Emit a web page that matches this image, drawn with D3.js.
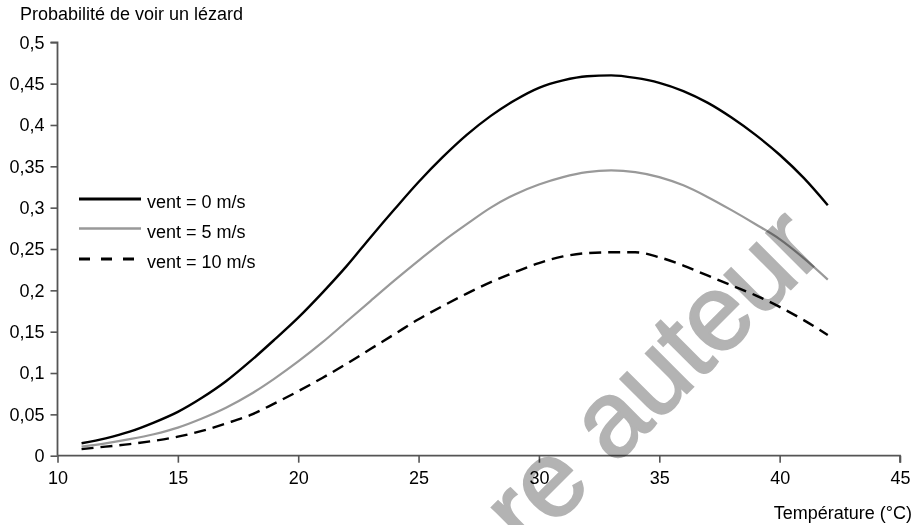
<!DOCTYPE html>
<html>
<head>
<meta charset="utf-8">
<script src="https://cdn.jsdelivr.net/npm/d3@7"></script>
<style>
  html, body { margin: 0; padding: 0; background: #fff; }
  svg { display: block; }
  text { font-family: "Liberation Sans", Arial, Helvetica, sans-serif; fill: #000; }
</style>
</head>
<body>
<svg id="chart" width="916" height="525"></svg>
<script>
// ---- Data ----
const temperatures = [11,12,13,14,15,16,17,18,19,20,21,22,23,24,25,26,27,28,29,30,31,32,33,34,35,36,37,38,39,40,41,42];
const vent0  = [0.015,0.021,0.029,0.040,0.053,0.070,0.090,0.114,0.140,0.167,0.197,0.229,0.264,0.298,0.331,0.361,0.388,0.411,0.430,0.445,0.454,0.459,0.460,0.457,0.451,0.441,0.427,0.409,0.388,0.364,0.336,0.303];
const vent5  = [0.011,0.015,0.020,0.026,0.034,0.045,0.058,0.074,0.093,0.114,0.137,0.162,0.187,0.212,0.236,0.259,0.280,0.300,0.316,0.328,0.337,0.343,0.345,0.343,0.337,0.327,0.313,0.297,0.280,0.262,0.239,0.213];
const vent10 = [0.008,0.011,0.014,0.018,0.023,0.030,0.039,0.049,0.063,0.078,0.094,0.111,0.129,0.147,0.165,0.181,0.196,0.210,0.222,0.233,0.241,0.245,0.246,0.246,0.240,0.230,0.218,0.206,0.194,0.180,0.164,0.146];
const seriesNames = ["vent = 0 m/s", "vent = 5 m/s", "vent = 10 m/s"];
const xTicks = [10,15,20,25,30,35,40,45];
const yTicks = [0,0.05,0.1,0.15,0.2,0.25,0.3,0.35,0.4,0.45,0.5];
const yTitle = "Probabilité de voir un lézard";
const xTitle = "Température (°C)";
const watermark = "re auteur";

// ---- Layout ----
const svg = d3.select("#chart");
const x = d3.scaleLinear().domain([10,45]).range([57.5, 900]);
const y = d3.scaleLinear().domain([0,0.5]).range([455.7, 42.3]);
const fmt = d => String(d).replace(".", ",");
const fontSize = "18px";
const axisColor = "#555";

// ---- Axes ----
const gx = svg.append("g").attr("transform", `translate(0,${y(0)})`)
  .call(d3.axisBottom(x).tickValues(xTicks).tickSize(7).tickPadding(9).tickFormat(d => d));
const gy = svg.append("g").attr("transform", `translate(${x(10)},0)`)
  .call(d3.axisLeft(y).tickValues(yTicks).tickSize(7).tickPadding(6).tickFormat(fmt));
[gx, gy].forEach(g => {
  g.select(".domain").attr("stroke", axisColor).attr("stroke-width", 1.8);
  g.selectAll(".tick line").attr("stroke", axisColor).attr("stroke-width", 1.6);
  g.selectAll(".tick text").style("font-size", fontSize).attr("fill", "#000")
    .style("font-family", '"Liberation Sans", Arial, sans-serif');
});
gx.select(".domain").attr("d", `M${x(10)},0H${x(45)}V7`);
gy.select(".domain").attr("d", `M0,${y(0)}V${y(0.5)}H-7`);

svg.append("text").attr("x", 20).attr("y", 20).style("font-size", fontSize).text(yTitle);
svg.append("text").attr("x", 912).attr("y", 519).attr("text-anchor", "end").style("font-size", fontSize).text(xTitle);

// ---- Lines ----
const styles = [
  {stroke: "#000", width: 2.4, dash: null},
  {stroke: "#999", width: 2.2, dash: null},
  {stroke: "#000", width: 2.4, dash: "12,7"}
];
const allSeries = [vent0, vent5, vent10];
const line = d3.line().x(d => x(d[0])).y(d => y(d[1])).curve(d3.curveMonotoneX);
allSeries.forEach((vals, i) => {
  svg.append("path")
    .datum(temperatures.map((t, j) => [t, vals[j]]))
    .attr("fill", "none")
    .attr("stroke", styles[i].stroke)
    .attr("stroke-width", styles[i].width)
    .attr("stroke-dasharray", styles[i].dash)
    .attr("d", line);
});

// ---- Legend ----
const legendY = [199, 228.5, 259];
seriesNames.forEach((name, i) => {
  svg.append("line")
    .attr("x1", 79).attr("x2", 141)
    .attr("y1", legendY[i]).attr("y2", legendY[i])
    .attr("stroke", styles[i].stroke)
    .attr("stroke-width", i === 1 ? 2.6 : 3)
    .attr("stroke-dasharray", i === 2 ? "11,11" : null);
  svg.append("text").attr("x", 147).attr("y", legendY[i] + 9).style("font-size", fontSize).text(name);
});

// ---- Watermark ----
svg.append("text")
  .attr("transform", "translate(527,553) rotate(-45)")
  .attr("text-anchor", "start")
  .style("font-size", "108px")
  .style("letter-spacing", "-1px")
  .style("fill", "#b3b3b3")
  .style("stroke", "#b3b3b3")
  .style("stroke-width", 2)
  .style("mix-blend-mode", "multiply")
  .text(watermark);
</script>
</body>
</html>
